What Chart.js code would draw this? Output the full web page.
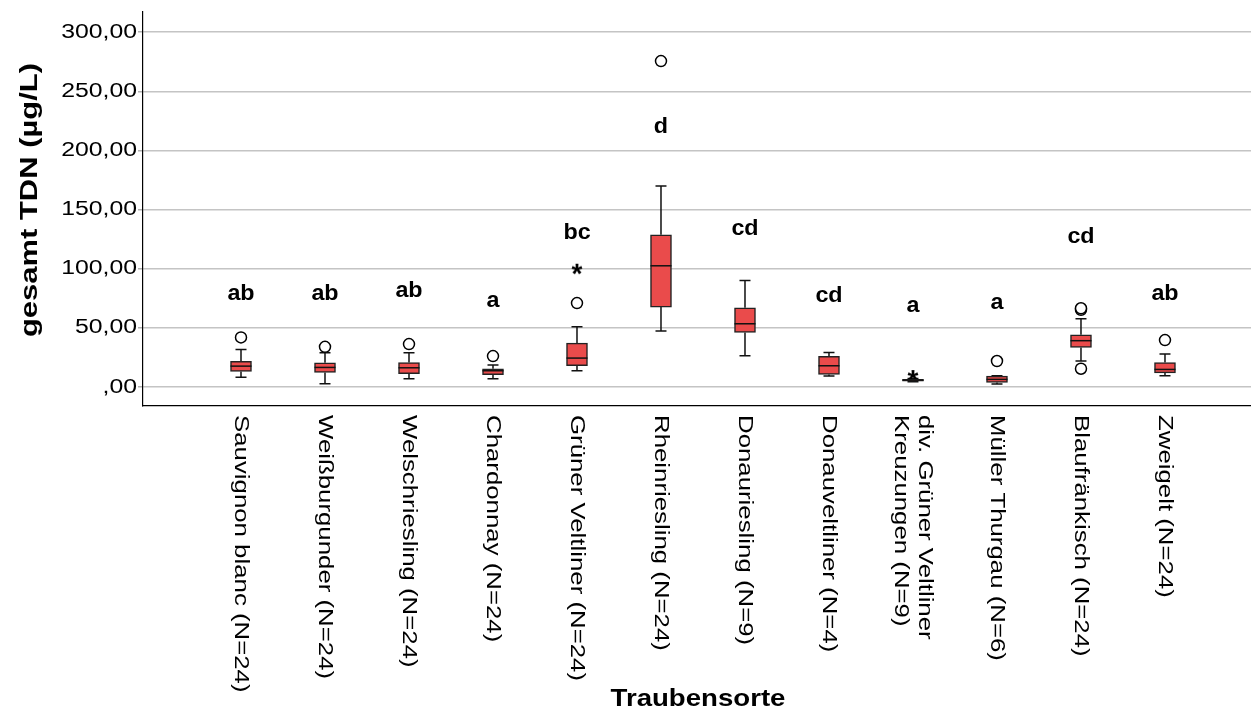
<!DOCTYPE html>
<html><head><meta charset="utf-8">
<script src="https://cdn.jsdelivr.net/npm/chart.js"></script>
<style>html,body{margin:0;padding:0;background:#fff;overflow:hidden}#wrap{width:1251px;height:711px}canvas{display:block}</style>
</head><body><div id="wrap"><canvas id="c" width="1251" height="711"></canvas></div>
<script>
const categories = ['Sauvignon blanc (N=24)','Weißburgunder (N=24)','Welschriesling (N=24)','Chardonnay (N=24)','Grüner Veltliner (N=24)','Rheinriesling (N=24)','Donauriesling (N=9)','Donauveltliner (N=4)','div. Grüner Veltliner\nKreuzungen (N=9)','Müller Thurgau (N=6)','Blaufränkisch (N=24)','Zweigelt (N=24)'];
const lowerWhisker = [8.4, 2.8, 7.0, 7.0, 13.8, 47.3, 26.5, 9.3, 4.4, 2.5, 22.0, 9.6];
const q1           = [13.2, 12.4, 11.3, 10.4, 18.0, 67.6, 46.2, 10.7, 5.0, 3.9, 33.5, 12.0];
const median       = [17.7, 16.6, 16.3, 13.8, 24.5, 102.5, 53.5, 18.0, 5.8, 6.5, 39.2, 14.9];
const q3           = [21.7, 20.5, 20.8, 15.5, 37.2, 128.7, 67.0, 25.9, 6.6, 9.2, 44.2, 20.8];
const upperWhisker = [31.8, 29.0, 29.0, 18.6, 51.0, 169.9, 90.1, 29.3, 7.2, 9.5, 57.7, 27.9];
const outliersCircle = [[42.0],[34.0],[36.3],[26.2],[71.0],[275.5],[],[],[],[22.0],[15.5,65.3,66.6],[39.7]];
const outliersStar   = [[],[],[],[],[101.7],[],[],[],[11.8],[],[],[]];
const groupLetters = ['ab','ab','ab','a','bc','d','cd','cd','a','a','cd','ab'];
const letterY      = [78.6, 78.6, 81.0, 72.7, 130.0, 219.7, 133.5, 77.0, 68.5, 71.0, 126.8, 78.6];
const yTicks = [0, 50, 100, 150, 200, 250, 300];
const yTickLabels = [',00', '50,00', '100,00', '150,00', '200,00', '250,00', '300,00'];
const yTitle = 'gesamt TDN (µg/L)';
const xTitle = 'Traubensorte';

const FONT = "'Liberation Sans', Arial, Helvetica, sans-serif";

const boxData = categories.map((c, i) => ({x: i, y: [q1[i], q3[i]]}));
const circleData = [];
outliersCircle.forEach((arr, i) => arr.forEach(v => circleData.push({x: i, y: v})));
const starData = [];
outliersStar.forEach((arr, i) => arr.forEach(v => starData.push({x: i, y: v})));

// asterisk marker image (point style)
const starImg = document.createElement('canvas');
starImg.width = 18; starImg.height = 18;
(function () {
  const c = starImg.getContext('2d');
  c.fillStyle = '#000';
  c.font = 'bold 28px ' + FONT;
  c.textAlign = 'center';
  c.textBaseline = 'alphabetic';
  c.fillText('*', 9, 9 + 0.56 * 28);
})();

function stretchedText(ctx, text, x, y, rot, sx, align) {
  ctx.save();
  ctx.translate(x, y);
  if (rot) ctx.rotate(rot);
  ctx.scale(sx, 1);
  ctx.textAlign = align;
  ctx.fillText(text, 0, 0);
  ctx.restore();
}

const boxPlugin = {
  id: 'boxExtras',
  beforeDatasetsDraw(chart) {
    const {ctx, scales: {x, y}} = chart;
    ctx.save();
    ctx.strokeStyle = '#111';
    ctx.lineWidth = 1.5;
    const cap = 5.5;
    categories.forEach((c, i) => {
      const px = x.getPixelForValue(i);
      const pLo = y.getPixelForValue(lowerWhisker[i]);
      const pQ1 = y.getPixelForValue(q1[i]);
      const pQ3 = y.getPixelForValue(q3[i]);
      const pHi = y.getPixelForValue(upperWhisker[i]);
      ctx.beginPath();
      ctx.moveTo(px, pQ3); ctx.lineTo(px, pHi);
      ctx.moveTo(px - cap, pHi); ctx.lineTo(px + cap, pHi);
      ctx.moveTo(px, pQ1); ctx.lineTo(px, pLo);
      ctx.moveTo(px - cap, pLo); ctx.lineTo(px + cap, pLo);
      ctx.stroke();
    });
    ctx.restore();
  },
  afterDatasetsDraw(chart) {
    const {ctx, scales: {x, y}} = chart;
    const meta = chart.getDatasetMeta(0);
    ctx.save();
    ctx.strokeStyle = '#111';
    ctx.lineWidth = 1.5;
    categories.forEach((c, i) => {
      const px = x.getPixelForValue(i);
      const half = meta.data[i].width / 2;
      const pm = y.getPixelForValue(median[i]);
      ctx.beginPath();
      ctx.moveTo(px - half, pm); ctx.lineTo(px + half, pm);
      ctx.stroke();
    });
    ctx.restore();
  },
  afterDraw(chart) {
    const {ctx, scales: {x, y}, chartArea} = chart;
    ctx.save();
    ctx.fillStyle = '#000';
    ctx.textBaseline = 'middle';
    ctx.font = '20px ' + FONT;
    yTicks.forEach((v, k) => {
      stretchedText(ctx, yTickLabels[k], chartArea.left - 6, y.getPixelForValue(v), 0, 1.24, 'right');
    });
    ctx.font = '20px ' + FONT;
    categories.forEach((c, i) => {
      const lines = c.split('\n');
      const px = x.getPixelForValue(i);
      lines.forEach((ln, k) => {
        const lx = px + ((lines.length - 1) / 2 - k) * 24;
        stretchedText(ctx, ln, lx, chartArea.bottom + 9, Math.PI / 2, 1.29, 'left');
      });
    });
    ctx.font = 'bold 22px ' + FONT;
    groupLetters.forEach((t, i) => {
      stretchedText(ctx, t, x.getPixelForValue(i), y.getPixelForValue(letterY[i]), 0, 1.06, 'center');
    });
    ctx.font = 'bold 24px ' + FONT;
    stretchedText(ctx, yTitle, 30, 200, -Math.PI / 2, 1.29, 'center');
    stretchedText(ctx, xTitle, 698, 699, 0, 1.15, 'center');
    ctx.restore();
  }
};

new Chart(document.getElementById('c'), {
  type: 'bar',
  data: {
    datasets: [
      {
        type: 'bar', data: boxData,
        backgroundColor: '#EA4B4B', borderColor: '#222', borderWidth: 1.5,
        borderSkipped: false, barThickness: 21
      },
      {
        type: 'scatter', data: circleData, pointStyle: 'circle', pointRadius: 5.5,
        pointBorderColor: '#000', pointBackgroundColor: '#fff', pointBorderWidth: 1.5
      },
      {
        type: 'scatter', data: starData, pointStyle: starImg, pointRadius: 6
      }
    ]
  },
  options: {
    responsive: false,
    animation: false,
    layout: {autoPadding: false, padding: {top: 12, left: 0, right: 0, bottom: 0}},
    plugins: {legend: {display: false}, tooltip: {enabled: false}},
    scales: {
      x: {
        type: 'linear', min: -1.1667, max: 12.024, offset: false,
        ticks: {display: false},
        grid: {display: false},
        border: {display: true, color: '#000', width: 1.2},
        afterFit: s => { s.height = 305; s.paddingLeft = 0; s.paddingRight = 0; }
      },
      y: {
        type: 'linear', min: -16, max: 317,
        afterBuildTicks: s => { s.ticks = yTicks.map(v => ({value: v})); },
        ticks: {display: false},
        grid: {color: '#c4c4c4', lineWidth: 1.5, drawTicks: true, tickLength: 5, tickColor: '#b0b0b0'},
        border: {display: true, color: '#000', width: 1.2},
        afterFit: s => { s.width = 143; s.paddingTop = 0; s.paddingBottom = 0; }
      }
    }
  },
  plugins: [boxPlugin]
});
</script>
</body></html>
